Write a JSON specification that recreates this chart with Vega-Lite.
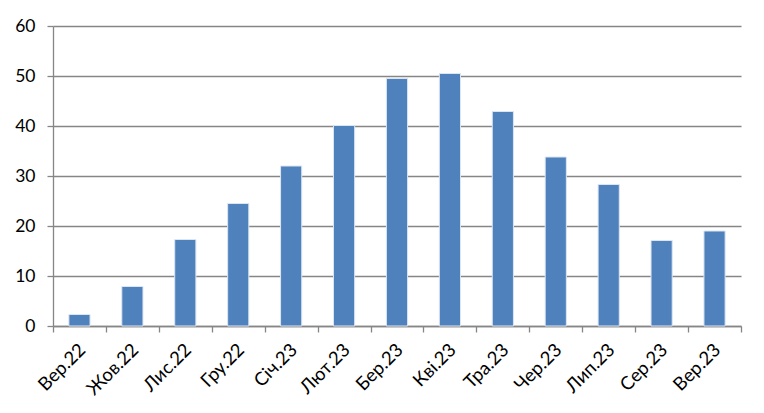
{
  "$schema": "https://vega.github.io/schema/vega-lite/v6.json",
  "width": 688,
  "height": 300,
  "autosize": "none",
  "padding": {"left": 53, "top": 26, "right": 23, "bottom": 87},
  "background": "white",
  "data": {
    "values": [
      {"month": "Вер.22", "value": 2.3},
      {"month": "Жов.22", "value": 7.9},
      {"month": "Лис.22", "value": 17.3},
      {"month": "Гру.22", "value": 24.5},
      {"month": "Січ.23", "value": 32.0},
      {"month": "Лют.23", "value": 40.1},
      {"month": "Бер.23", "value": 49.5},
      {"month": "Кві.23", "value": 50.5},
      {"month": "Тра.23", "value": 42.9},
      {"month": "Чер.23", "value": 33.8},
      {"month": "Лип.23", "value": 28.3},
      {"month": "Сер.23", "value": 17.1},
      {"month": "Вер.23", "value": 19.0}
    ]
  },
  "mark": {
    "type": "bar",
    "color": "#4f81bd",
    "width": {"band": 0.4},
    "stroke": "#dce6f2",
    "strokeWidth": 1
  },
  "encoding": {
    "x": {
      "field": "month",
      "type": "nominal",
      "sort": null,
      "scale": {"paddingInner": 0, "paddingOuter": 0},
      "axis": {
        "title": null,
        "labelAngle": -45,
        "labelFontSize": 18.5,
        "tickBand": "extent",
        "tickSize": 6,
        "labelPadding": 8,
        "labelOffset": -4
      }
    },
    "y": {
      "field": "value",
      "type": "quantitative",
      "scale": {"domain": [0, 60], "nice": false},
      "axis": {
        "title": null,
        "values": [0, 10, 20, 30, 40, 50, 60],
        "tickSize": 6,
        "labelPadding": 12
      }
    }
  },
  "config": {
    "view": {"stroke": null},
    "axis": {
      "labelFont": "Lato",
      "labelFontSize": 17.5,
      "labelColor": "#000000",
      "domainColor": "#868686",
      "domainWidth": 1.3,
      "tickColor": "#868686",
      "tickWidth": 1.3,
      "gridColor": "#868686",
      "gridWidth": 1.3,
      "gridOpacity": 1
    },
    "axisX": {"grid": false},
    "axisY": {"grid": true}
  }
}
